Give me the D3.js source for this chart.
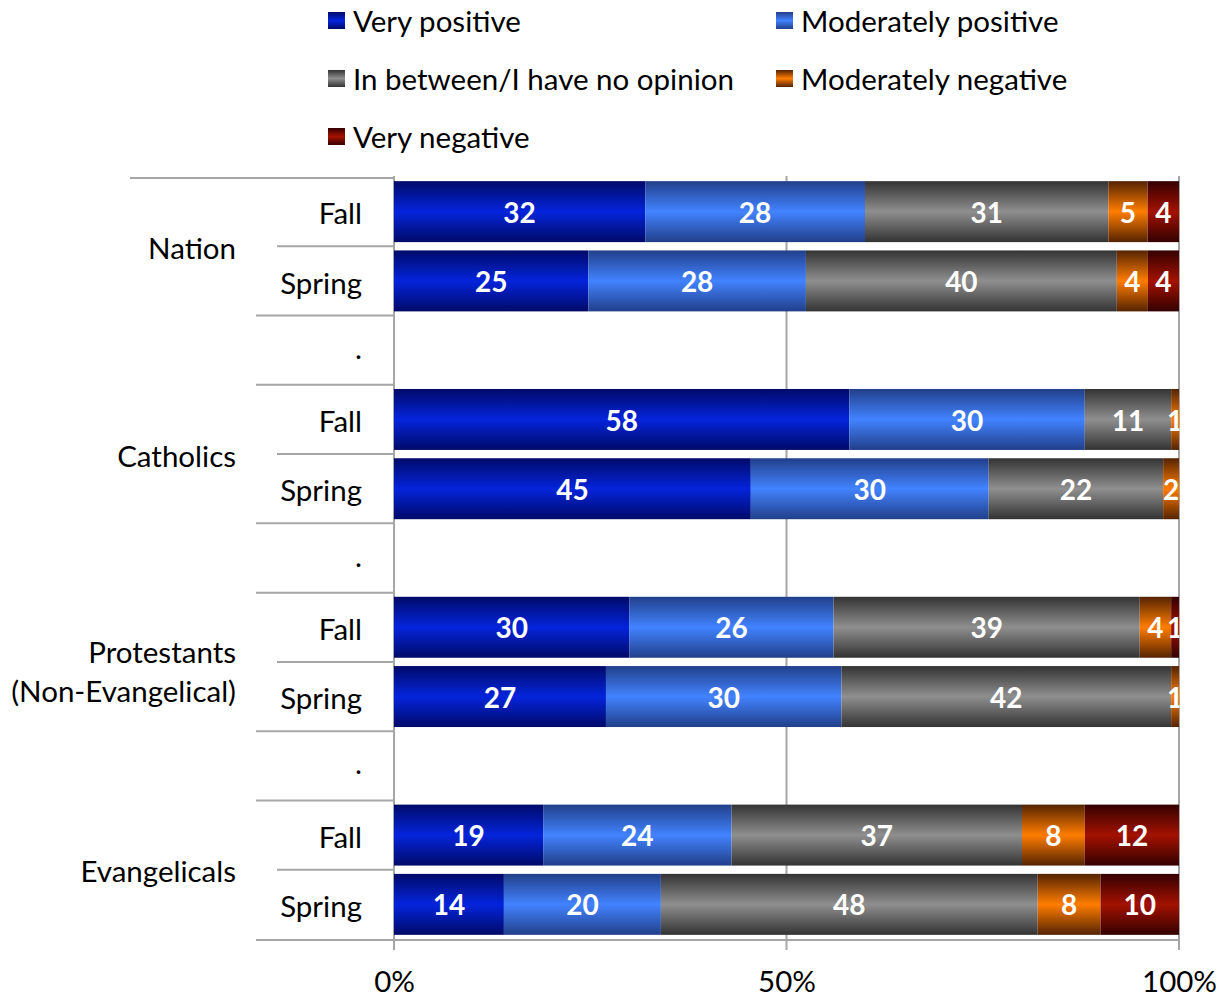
<!DOCTYPE html>
<html>
<head>
<meta charset="utf-8">
<script src="https://cdn.jsdelivr.net/npm/d3@7"></script>
<style>
  html, body { margin: 0; padding: 0; background: #fff; }
  svg { display: block; font-family: Lato, "Open Sans", sans-serif; }
</style>
</head>
<body>
<svg id="chart" width="1221" height="997"></svg>
<script>
// ---- data ----
const rowLabels = ["Fall", "Spring", ".", "Fall", "Spring", ".", "Fall", "Spring", ".", "Fall", "Spring"];
const groupLabels = [["Nation"], ["Catholics"], ["Protestants", "(Non-Evangelical)"], ["Evangelicals"]];
const groupRows = [[0, 1], [3, 4], [6, 7], [9, 10]];
const seriesNames = ["Very positive", "Moderately positive", "In between/I have no opinion", "Moderately negative", "Very negative"];
const veryPositive       = [32, 25, 0, 58, 45, 0, 30, 27, 0, 19, 14];
const moderatelyPositive = [28, 28, 0, 30, 30, 0, 26, 30, 0, 24, 20];
const inBetween          = [31, 40, 0, 11, 22, 0, 39, 42, 0, 37, 48];
const moderatelyNegative = [5, 4, 0, 1, 2, 0, 4, 1, 0, 8, 8];
const veryNegative       = [4, 4, 0, 0, 0, 0, 1, 0, 0, 12, 10];
const xTicks = [0, 0.5, 1];

const seriesValues = [veryPositive, moderatelyPositive, inBetween, moderatelyNegative, veryNegative];
const gradColors = [
  ["#000a68", "#0424dc"],
  ["#213f8a", "#4283ff"],
  ["#333333", "#8f8f8f"],
  ["#552300", "#ff7d00"],
  ["#340000", "#a31200"]
];
const fs = 29.5;

const svg = d3.select("#chart");
const defs = svg.append("defs");
gradColors.forEach((c, i) => {
  const g = defs.append("linearGradient").attr("id", "g" + i)
    .attr("x1", 0).attr("y1", 0).attr("x2", 0).attr("y2", 1);
  g.append("stop").attr("offset", "0%").attr("stop-color", c[0]);
  g.append("stop").attr("offset", "50%").attr("stop-color", c[1]);
  g.append("stop").attr("offset", "100%").attr("stop-color", c[0]);
});

const pLeft = 394, pRight = 1179, pTop = 178, pBottom = 940;
const x = d3.scaleLinear().domain([0, 1]).range([pLeft, pRight]);
const y = d3.scaleBand().domain(d3.range(rowLabels.length)).range([pTop - 1, pBottom - 1])
  .paddingInner(0.12).paddingOuter(0.06);

defs.append("clipPath").attr("id", "plotclip")
  .append("rect").attr("x", pLeft).attr("y", pTop - 5).attr("width", pRight - pLeft + 0.5).attr("height", pBottom - pTop + 10);

// gridlines
const gridColor = "#a6a6a6";
svg.append("g").selectAll("line").data(xTicks).join("line")
  .attr("x1", d => x(d)).attr("x2", d => x(d))
  .attr("y1", pTop - 2).attr("y2", pBottom + 10)
  .attr("stroke", gridColor).attr("stroke-width", 2);

// stacked data
const rows = rowLabels.map((lab, i) => {
  const vals = seriesValues.map(s => s[i]);
  const total = d3.sum(vals);
  let acc = 0;
  return vals.map((v, k) => {
    const x0 = total ? acc / total : 0;
    acc += v;
    const x1 = total ? acc / total : 0;
    return { row: i, k, v, x0, x1 };
  });
});
const segs = rows.flat().filter(d => d.v > 0);

svg.append("g").selectAll("rect").data(segs).join("rect")
  .attr("x", d => x(d.x0)).attr("width", d => x(d.x1) - x(d.x0))
  .attr("y", d => y(d.row)).attr("height", y.bandwidth())
  .attr("fill", d => "url(#g" + d.k + ")");

svg.append("g").attr("clip-path", "url(#plotclip)").selectAll("text").data(segs).join("text")
  .attr("x", d => (x(d.x0) + x(d.x1)) / 2)
  .attr("y", d => y(d.row) + y.bandwidth() / 2 + 1)
  .attr("dy", "0.36em")
  .attr("text-anchor", "middle")
  .attr("fill", "#fff").attr("font-weight", "bold").attr("font-size", 28)
  .text(d => d.v);

// y axis lines
const boundaries = d3.range(rowLabels.length + 1).map(i => ({
  i, yv: i === 0 ? pTop : (i < rowLabels.length ? y(i) - y.step() * y.paddingInner() / 2 : pBottom)
}));
svg.append("g").selectAll("line").data(boundaries).join("line")
  .attr("x1", d => d.i === 0 ? 130 : ([1, 4, 7, 10].includes(d.i) ? 277 : 256))
  .attr("x2", pLeft)
  .attr("y1", d => d.yv).attr("y2", d => d.yv)
  .attr("stroke", gridColor).attr("stroke-width", 2);

// x axis line
svg.append("line").attr("x1", pLeft).attr("x2", pRight).attr("y1", pBottom).attr("y2", pBottom)
  .attr("stroke", gridColor).attr("stroke-width", 2);

// x tick labels
const xAxis = d3.axisBottom(x).tickValues(xTicks).tickFormat(d3.format(".0%")).tickSize(0).tickPadding(0);
const xg = svg.append("g").attr("transform", `translate(0,${pBottom})`).call(xAxis);
xg.select(".domain").remove();
xg.selectAll("text").attr("font-size", fs).attr("font-family", "Lato, sans-serif")
  .attr("fill", "#000").attr("y", 41).attr("dy", "0.36em");

// row labels
svg.append("g").selectAll("text").data(rowLabels).join("text")
  .attr("x", 362).attr("y", (d, i) => y(i) + y.bandwidth() / 2 + (d === "." ? -2 : 2))
  .attr("dy", "0.36em").attr("text-anchor", "end")
  .attr("font-size", fs).attr("fill", "#000").text(d => d);

// group labels
const gl = svg.append("g").selectAll("text").data(groupLabels).join("text")
  .attr("text-anchor", "end").attr("font-size", fs).attr("fill", "#000")
  .attr("transform", (d, i) => {
    const r = groupRows[i];
    const cy = (y(r[0]) + y(r[1]) + y.bandwidth()) / 2 + 2;
    return `translate(236,${cy})`;
  });
gl.selectAll("tspan").data(d => d.map((t, j) => ({ t, j, n: d.length }))).join("tspan")
  .attr("x", 0)
  .attr("y", d => (d.j - (d.n - 1) / 2) * 39 + (d.n > 1 ? 8 : 0))
  .attr("dy", "0.36em")
  .text(d => d.t);

// legend
const legendPos = [[328, 21], [776, 21], [328, 79], [776, 79], [328, 137]];
const lg = svg.append("g").selectAll("g").data(seriesNames).join("g")
  .attr("transform", (d, i) => `translate(${legendPos[i][0]},${legendPos[i][1]})`);
lg.append("rect").attr("x", 0).attr("y", -9).attr("width", 17).attr("height", 17)
  .attr("fill", (d, i) => "url(#g" + i + ")");
lg.append("text").attr("x", 25).attr("y", 0).attr("dy", "0.36em")
  .attr("font-size", fs).attr("fill", "#000").text(d => d);
</script>
</body>
</html>
